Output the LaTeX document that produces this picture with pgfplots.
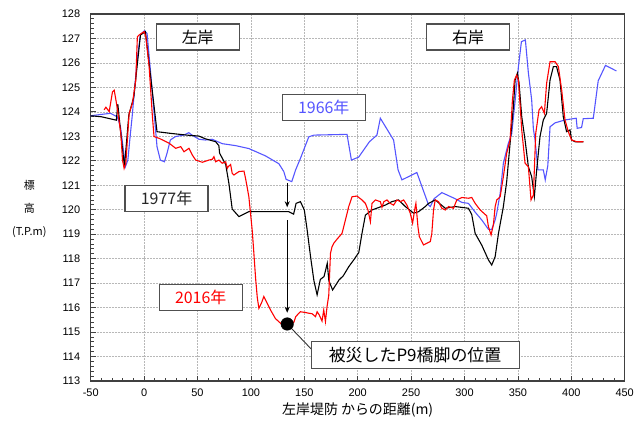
\documentclass[border=0pt]{standalone}
\usepackage{pgfplots}
\pgfplotsset{compat=1.18}
\usepackage{fontspec}
\setmainfont{Liberation Sans}
\newfontfamily\cjk{Noto Sans CJK JP}
\usetikzlibrary{arrows.meta}
\definecolor{c66}{RGB}{85,85,255}
\definecolor{c77}{RGB}{0,0,0}
\definecolor{c16}{RGB}{255,0,0}
\definecolor{frame}{RGB}{64,64,64}
\definecolor{boxc}{RGB}{80,80,80}
\begin{document}
\begin{tikzpicture}
\useasboundingbox (-90.7bp,-45bp) rectangle (552.3bp,381bp);
\begin{axis}[
  scale only axis, width=534bp, height=367bp,
  at={(0,0)}, anchor=south west,
  xmin=-50, xmax=450, ymin=113, ymax=128,
  xtick distance=50, ytick distance=1,
  minor x tick num=4, minor y tick num=4,
  tick align=inside, xtick pos=bottom, ytick pos=left,
  major tick length=5bp, minor tick length=3.5bp,
  grid=major, major grid style={black!28, dash pattern=on 2pt off 1pt, line width=0.7pt},
  minor grid style={draw=none},
  axis line style={frame, line width=1.2pt},
  tick style={frame, line width=0.8pt},
  ticklabel style={font=\fontsize{11}{13}\selectfont},
  xticklabel style={yshift=-4bp},
  yticklabel style={xshift=-7bp},
  /pgf/number format/assume math mode=true,
  /pgf/number format/1000 sep={},
  xlabel={左岸堤防 からの距離(m)},
  xlabel style={font=\cjk\fontsize{14}{16}\selectfont, at={(axis description cs:0.5,-0.079)}, anchor=center},
  ylabel={標\\高\\(T.P.m)},
  ylabel style={font=\cjk\fontsize{11}{23}\selectfont, rotate=-90, align=center, at={(axis description cs:-0.115,0.469)}, anchor=center},
  clip=false,
]
% 1966
\addplot[c66, line width=1.1pt] coordinates {
(-50,123.84) (-39.3,123.9) (-31.5,123.94) (-25.2,123.8) (-22.1,123.39) (-19,122.31) (-17.5,121.76) (-15.2,122.03) (-12.8,123.12) (-11.2,123.8) (-6.5,126.12) (-3.5,127.14) (0.3,127.32) (2.8,127.2) (5.9,125.71) (9.1,124.08) (12.1,122.58) (15.2,122.03) (19,121.96) (21.5,122.31) (24.6,122.85) (29.3,122.99) (37.1,123.05) (41.8,123.15) (44.9,123.05) (51.4,122.88) (57.3,122.85) (63.8,122.88) (73.2,122.7) (85.7,122.62) (98.1,122.5) (113.7,122.2) (126.2,121.88) (130.8,121.56) (133,121.24) (138.3,121.15) (141.8,121.62) (146.4,122.1) (154.2,122.98) (159,123.05) (190,123.08) (194.1,122.03) (200.9,122.15) (211,122.78) (218,123.05) (221.2,123.74) (233.6,122.85) (237.8,121.63) (241.4,121.22) (255.4,121.52) (266.4,120.19) (268,120.13) (271.5,120.45) (278.8,120.7) (291.3,120.45) (297.5,120.3) (303.7,120.26) (310,119.9) (316.2,119.58) (322.4,119.2) (325.5,119.2) (328.7,119.58) (330.2,119.86) (333.4,120.67) (336.4,121.9) (341.1,122.72) (344.2,123.1) (347.4,124.45) (350.5,125.85) (353.3,126.87) (357,126.94) (359.8,125.6) (362.9,124.49) (364.5,123.3) (366.1,122.85) (368.8,121.63) (373.8,121.63) (375.6,121.22) (378,121.8) (380.1,123.39) (384.8,123.55) (394.1,123.67) (404.6,123.74) (405.5,123.33) (409.6,123.36) (411.2,123.72) (420.6,123.74) (425.2,125.27) (432,125.9) (442.3,125.67)
};
% 1977
\addplot[c77, line width=1.1pt] coordinates {
(-50,123.84) (-40,123.8) (-30,123.7) (-26,123.66) (-24.6,124.31) (-22,123.2) (-18.4,121.76) (-14.3,123.87) (-9.6,124.62) (-3.4,127.14) (1.2,127.28) (12.1,123.19) (25,123.12) (40,123.05) (51.4,123.01) (57.3,122.9) (67,122.78) (70,122.62) (70.7,122.31) (76.4,121.85) (79.4,121.08) (82.5,120.03) (88.8,119.72) (98,119.92) (135.5,119.92) (140,119.82) (142.3,120.26) (146.4,120.33) (150,119.99) (152.6,119.2) (155.8,118.1) (159,117.1) (162,116.52) (165,117.15) (168.5,117.27) (171.5,117.81) (173,117.1) (176.5,116.72) (182.5,117.13) (186.5,117.3) (191.6,117.67) (196.3,117.95) (201,118.25) (204,119.03) (207.2,119.78) (213.4,119.99) (225.9,120.19) (232,120.33) (238.3,120.4) (244.6,120.13) (252.3,119.86) (257,119.92) (263.3,120.13) (266.4,120.26) (272.6,120.4) (282,120.06) (291.3,120.13) (303.7,120.06) (306.8,119.8) (310,119.03) (316.2,118.55) (322.4,117.95) (325.5,117.74) (328.7,118.08) (331.8,119.03) (336.4,120.13) (339.5,121.15) (342.7,122.72) (345.8,124.21) (347.4,125.3) (349.5,125.58) (351.1,125.17) (353.6,123.8) (356.7,122.85) (359.8,121.76) (362.9,121.35) (365.4,120.53) (367.6,121.63) (370.7,122.99) (373.8,123.67) (376.9,123.94) (380.1,125.3) (383.2,125.85) (386.2,125.85) (389.4,125.3) (392.5,123.8) (395.6,123.19) (398.8,123.26) (400.3,122.85) (403.4,122.78) (411.2,122.78)
};
% 2016
\addplot[c16, line width=1.1pt] coordinates {
(-37.4,124.08) (-35.8,124.19) (-32.7,124.01) (-29.6,124.82) (-28,124.89) (-26.4,124.49) (-24.9,124.08) (-21.8,123.12) (-20.2,122.03) (-18.7,121.69) (-17.1,121.9) (-14,123.94) (-10.9,124.35) (-7.8,125.3) (-6.3,127.07) (-4.7,127.14) (0,127.28) (1.6,127.07) (4.7,125.85) (7.8,123.8) (9.3,122.99) (14,122.92) (23.4,122.72) (29.6,122.51) (34.3,122.58) (37.4,122.37) (42,122.51) (45.1,122.24) (48.3,122.03) (54.5,121.94) (60.7,122.03) (63.8,122.06) (65.4,122.17) (67,121.96) (70,122.03) (73.2,121.9) (76.4,121.96) (77.9,121.69) (78.8,121.76) (81,121.85) (82.5,121.49) (84.1,121.42) (88.8,121.56) (93.5,121.58) (95,121.28) (98.1,120.53) (101.2,119.17) (102.5,118.4) (104.4,117.2) (106,116.4) (107.5,115.97) (110,116.2) (112.1,116.45) (115.2,116.18) (118.4,115.9) (123,115.55) (129.3,115.3) (134,115.25) (140.2,115.4) (142,115.63) (144.9,115.77) (146.4,115.83) (151.1,115.8) (154.2,115.77) (157.3,115.75) (160.5,115.63) (162,115.83) (164,115.7) (166.6,115.45) (168.2,115.9) (169.8,115.43) (171.3,116.04) (172.9,116.5) (174.5,118.22) (176,118.49) (177.6,118.63) (180.7,118.8) (185.3,119.03) (188.5,119.58) (191.6,120.13) (194.7,120.53) (199.3,120.56) (204,120.4) (207.2,120.26) (209.6,119.99) (211.9,119.51) (213.4,120.26) (216.6,120.4) (221.2,120.33) (222.7,120.1) (224.5,120.33) (227.4,120.4) (230.5,120.26) (233.6,120.19) (236.7,120.4) (240,120.33) (243,120.4) (246.1,120.19) (249.2,119.86) (251.4,119.45) (253.3,119.99) (254.5,120.26) (256.4,119.31) (257.7,118.9) (260,118.7) (261.7,118.56) (264.8,118.63) (268,118.7) (269.4,119.03) (271,119.99) (272.6,120.4) (275.7,120.33) (278.8,120.06) (282,119.99) (285,120.13) (289.7,120.06) (292.8,120.4) (297.5,120.5) (303.7,120.47) (306.8,120.5) (310,120.26) (314.7,119.99) (320.8,119.75) (322.4,119.31) (324.9,118.97) (327.1,119.4) (328.7,120.13) (330.2,120.4) (333.4,120.53) (336.4,121.35) (339.5,122.31) (342.7,122.85) (344.9,124.49) (346.7,125.3) (348.9,125.5) (350.5,125.3) (353.6,123.26) (356.7,121.9) (359.8,121.76) (362.3,120.4) (364.5,120.6) (366.7,123.12) (369.8,124.08) (372.2,124.21) (374.8,123.94) (376.9,125.17) (380.1,126.05) (384.8,126.05) (387.9,125.85) (391,124.89) (394.1,123.67) (397.2,123.19) (400.3,122.85) (405,122.78) (411.2,122.78)
};
% arrows
\draw[-{Stealth[length=6bp,width=5bp]}, line width=0.9pt] (axis cs:134,121.08) -- (axis cs:134,120.1);
\draw[-{Stealth[length=6bp,width=5bp]}, line width=0.9pt] (axis cs:134,119.58) -- (axis cs:134,115.79);
% leader line
\draw[black!80, line width=0.9pt] (axis cs:134,115.33) -- (axis cs:157.3,114.27);
% pier position
\addplot[only marks, mark=*, mark size=6.3bp, black] coordinates {(134,115.33)};
% boxes
\tikzset{lbl/.style={draw=boxc, line width=1.1pt, fill=white, minimum width=83bp, minimum height=26bp, inner sep=1bp, font=\cjk\fontsize{16}{18}\selectfont}}
\node[lbl] at (axis cs:50.2,127.06) {左岸};
\node[lbl] at (axis cs:303.3,127.06) {右岸};
\node[lbl, text=c66] at (axis cs:168.2,124.18) {1966年};
\node[lbl, text=black!85] at (axis cs:21.0,120.47) {1977年};
\node[lbl, text=c16] at (axis cs:53.0,116.43) {2016年};
\node[lbl, minimum width=208bp, minimum height=27bp, font=\cjk\fontsize{17}{19}\selectfont] at (axis cs:253.7,114.06) {被災したP9橋脚の位置};
\end{axis}
\end{tikzpicture}
\end{document}
